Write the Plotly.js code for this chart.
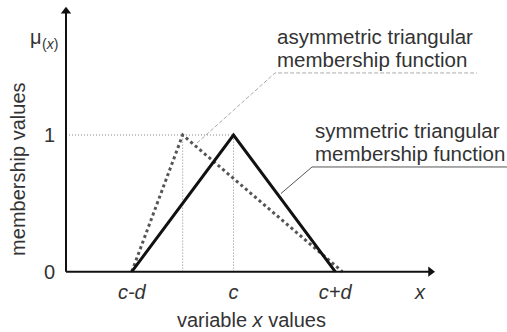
<!DOCTYPE html>
<html><head><meta charset="utf-8">
<script src="https://cdn.plot.ly/plotly-3.0.1.min.js"></script>
<style>html,body{margin:0;padding:0;background:#fff}#chart{width:507px;height:332px}</style>
</head><body><div id="chart"></div>
<script>
// x in units of d, centred on c (c-d = -1, c = 0, c+d = 1)
var tickVals = [-1, 0, 1, 1.834];
var tickLabels = ['c-d', 'c', 'c+d', 'x'];
var yTickVals = [0, 1];
var yTickLabels = ['0', '1'];

var symX = [-1, 0, 1];
var symY = [0, 1, 0];
var asymX = [-1, -0.5, 1.07];
var asymY = [0, 1, 0];

var guideHX = [-1.647, 0];
var guideHY = [1, 1];
var guideV1X = [-0.5, -0.5];
var guideV2X = [0, 0];
var guideVY = [0, 1];

var asymCalloutX = [-0.359, 0.408, 2.394];
var asymCalloutY = [0.941, 1.454, 1.454];
var symCalloutX = [0.467, 0.772, 2.689];
var symCalloutY = [0.572, 0.766, 0.766];

// axes with arrow tips
var xAxisX = [-1.647, 1.95];
var xAxisY = [0, 0];
var yAxisX = [-1.647, -1.647];
var yAxisY = [0, 1.91];
var arrowTipX = [1.937, -1.647];
var arrowTipY = [0, 1.906];

var xMin = -1.706, xMax = 2.689, yMin = -0.032, yMax = 1.988;
var font = 'Liberation Sans, Arial, sans-serif';
var txt = '#333';

var traces = [
  {x: guideHX, y: guideHY, mode: 'lines', line: {color: '#888', width: 1, dash: '1px,2px'}},
  {x: guideV1X, y: guideVY, mode: 'lines', line: {color: '#888', width: 1, dash: '1px,2px'}},
  {x: guideV2X, y: guideVY, mode: 'lines', line: {color: '#888', width: 1, dash: '1px,2px'}},
  {x: asymCalloutX, y: asymCalloutY, mode: 'lines', line: {color: '#aaa', width: 1, dash: '4px,2px'}},
  {x: symCalloutX, y: symCalloutY, mode: 'lines', line: {color: '#555', width: 1}},
  {x: asymX, y: asymY, mode: 'lines', line: {color: '#555', width: 3, dash: 'dot'}},
  {x: symX, y: symY, mode: 'lines', line: {color: '#111', width: 3}},
  {x: xAxisX, y: xAxisY, mode: 'lines', line: {color: '#111', width: 2}},
  {x: yAxisX, y: yAxisY, mode: 'lines', line: {color: '#111', width: 2}},
  {x: arrowTipX, y: arrowTipY, mode: 'markers', cliponaxis: false,
   marker: {symbol: ['triangle-right', 'triangle-up'], size: 9, color: '#111', line: {width: 0}}}
];

var annotations = [
  {xref: 'paper', yref: 'paper', x: -0.0358, y: 0.866, xanchor: 'right', yanchor: 'middle', showarrow: false,
   text: 'μ', font: {family: font, size: 20, color: txt}},
  {xref: 'paper', yref: 'paper', x: -0.044, y: 0.842, xanchor: 'left', yanchor: 'middle', showarrow: false,
   text: '(<i>x</i>)', font: {family: font, size: 14, color: txt}},
  {xref: 'x', yref: 'y', x: 0.411, y: 1.72, xanchor: 'left', yanchor: 'middle', showarrow: false,
   text: 'asymmetric triangular', font: {family: font, size: 20.5, color: txt}},
  {xref: 'x', yref: 'y', x: 0.411, y: 1.55, xanchor: 'left', yanchor: 'middle', showarrow: false,
   text: 'membership function', font: {family: font, size: 20.5, color: txt}},
  {xref: 'x', yref: 'y', x: 0.78, y: 1.036, xanchor: 'left', yanchor: 'middle', showarrow: false,
   text: 'symmetric triangular', font: {family: font, size: 20.5, color: txt}},
  {xref: 'x', yref: 'y', x: 0.78, y: 0.868, xanchor: 'left', yanchor: 'middle', showarrow: false,
   text: 'membership function', font: {family: font, size: 20.5, color: txt}},
  {xref: 'paper', yref: 'paper', x: 0.4295, y: -0.159, xanchor: 'center', yanchor: 'middle', showarrow: false,
   text: 'variable <i>x</i> values', font: {family: font, size: 20, color: txt}},
  {xref: 'paper', yref: 'paper', x: -0.094, y: 0.388, xanchor: 'center', yanchor: 'middle', showarrow: false,
   textangle: -90, text: 'membership values', font: {family: font, size: 20, color: txt}}
];

var layout = {
  width: 507, height: 332, autosize: false,
  margin: {l: 60, r: 0, t: 0, b: 56, pad: 0},
  paper_bgcolor: '#fff', plot_bgcolor: '#fff',
  showlegend: false,
  xaxis: {range: [xMin, xMax], showgrid: false, zeroline: false, showline: false,
    tickmode: 'array', tickvals: tickVals, ticktext: tickLabels.map(function(t){return '<i>' + t + '</i>';}),
    ticks: '', ticklabelstandoff: 2, tickfont: {family: font, size: 20, color: txt}},
  yaxis: {range: [yMin, yMax], showgrid: false, zeroline: false, showline: false,
    tickmode: 'array', tickvals: yTickVals, ticktext: yTickLabels,
    ticks: '', ticklabelstandoff: 4, tickfont: {family: font, size: 20, color: txt}},
  annotations: annotations
};

Plotly.newPlot('chart', traces, layout, {staticPlot: true, displayModeBar: false});
</script></body></html>
